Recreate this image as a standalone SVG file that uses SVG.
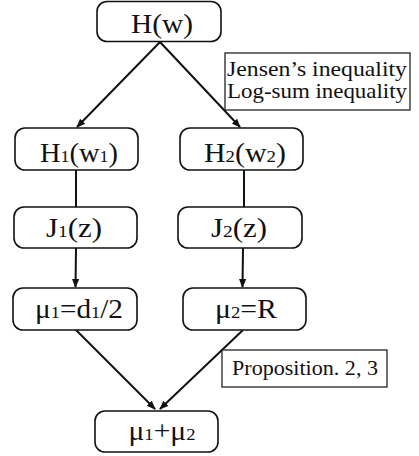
<svg xmlns="http://www.w3.org/2000/svg" width="419" height="456" viewBox="0 0 419 456">
<style>
.node rect{fill:#fff;stroke:#111;stroke-width:1.6}
.t{font-family:"Liberation Serif","Times New Roman",serif;font-size:27px;fill:#111;text-anchor:middle}
.s{font-size:17px}
.lab rect{fill:#fff;stroke:#222;stroke-width:1.3}
.l{font-family:"Liberation Serif","Times New Roman",serif;font-size:21px;fill:#111}
.c{stroke:#111;stroke-width:2;fill:none}
</style>
<defs>
<marker id="ah" viewBox="0 0 10 10" refX="9" refY="5" markerWidth="4.5" markerHeight="4.5" orient="auto" markerUnits="strokeWidth">
<path d="M0,1 L10,5 L0,9 z" fill="#111"/>
</marker>
</defs>
<g id="connectors">
<line class="c" x1="160" y1="42" x2="77" y2="127" marker-end="url(#ah)"/>
<line class="c" x1="160" y1="42" x2="240" y2="127" marker-end="url(#ah)"/>
<line class="c" x1="76" y1="170" x2="76" y2="207"/>
<line class="c" x1="244" y1="170" x2="244" y2="207"/>
<line class="c" x1="76" y1="248" x2="75.5" y2="287" marker-end="url(#ah)"/>
<line class="c" x1="243" y1="248" x2="242.5" y2="287" marker-end="url(#ah)"/>
<line class="c" x1="76" y1="330" x2="155" y2="409" marker-end="url(#ah)"/>
<line class="c" x1="243" y1="330" x2="160" y2="409" marker-end="url(#ah)"/>
</g>
<g id="n_hw" class="node"><rect x="97" y="1.5" width="124" height="40" rx="10"/><text class="t" x="162" y="33" textLength="62" lengthAdjust="spacingAndGlyphs">H(w)</text></g>
<g id="n_h1" class="node"><rect x="15" y="128" width="123" height="42" rx="10"/><text class="t" x="79" y="162" textLength="78" lengthAdjust="spacingAndGlyphs">H<tspan class="s">1</tspan>(w<tspan class="s">1</tspan>)</text></g>
<g id="n_h2" class="node"><rect x="180" y="128" width="123" height="42" rx="10"/><text class="t" x="245" y="162" textLength="82" lengthAdjust="spacingAndGlyphs">H<tspan class="s">2</tspan>(w<tspan class="s">2</tspan>)</text></g>
<g id="n_j1" class="node"><rect x="14" y="207" width="123" height="41" rx="10"/><text class="t" x="74" y="237" textLength="56" lengthAdjust="spacingAndGlyphs">J<tspan class="s">1</tspan>(z)</text></g>
<g id="n_j2" class="node"><rect x="178" y="207" width="124" height="41" rx="10"/><text class="t" x="239" y="237" textLength="56" lengthAdjust="spacingAndGlyphs">J<tspan class="s">2</tspan>(z)</text></g>
<g id="n_mu1" class="node"><rect x="13" y="288" width="124" height="42" rx="10"/><text class="t" x="79" y="318" textLength="88" lengthAdjust="spacingAndGlyphs">μ<tspan class="s">1</tspan>=d<tspan class="s">1</tspan>/2</text></g>
<g id="n_mu2" class="node"><rect x="183" y="288" width="123" height="42" rx="10"/><text class="t" x="246" y="318" textLength="62" lengthAdjust="spacingAndGlyphs">μ<tspan class="s">2</tspan>=R</text></g>
<g id="n_sum" class="node"><rect x="95" y="411" width="123" height="41" rx="10"/><text class="t" x="162" y="440" textLength="67" lengthAdjust="spacingAndGlyphs">μ<tspan class="s">1</tspan>+μ<tspan class="s">2</tspan></text></g>
<g id="lab_jensen" class="lab"><rect x="225" y="53" width="185" height="57"/><text class="l" x="227" y="76" textLength="180" lengthAdjust="spacingAndGlyphs">Jensen’s inequality</text><text class="l" x="227" y="98" textLength="180" lengthAdjust="spacingAndGlyphs">Log-sum inequality</text></g>
<g id="lab_prop" class="lab"><rect x="222" y="350" width="165" height="37"/><text class="l" x="232" y="375" textLength="146" lengthAdjust="spacingAndGlyphs">Proposition. 2, 3</text></g>
</svg>
